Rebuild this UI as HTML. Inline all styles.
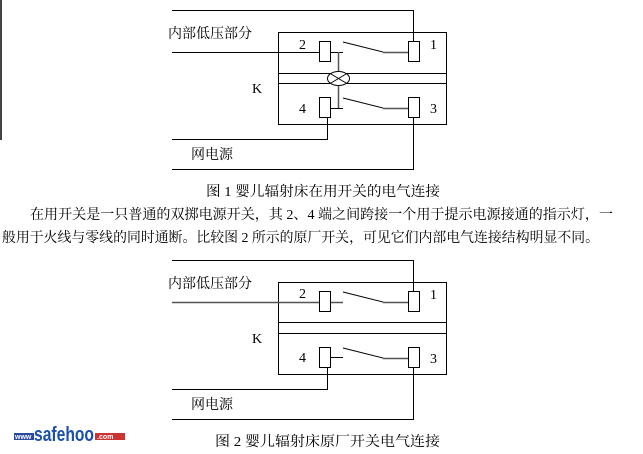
<!DOCTYPE html>
<html><head><meta charset="utf-8"><style>
html,body{margin:0;padding:0;background:#fff;width:643px;height:454px;overflow:hidden}
svg{display:block}
text{font-family:"Liberation Serif","Noto Serif CJK SC","Noto Sans CJK SC",serif;fill:#000}
</style></head><body>
<svg width="643" height="454" viewBox="0 0 643 454">
<rect x="0" y="0" width="2" height="140" fill="#444"/>
<g fill="none" stroke="#000" stroke-width="1">
<!-- fig1 -->
<polyline points="172,10.5 413.5,10.5 413.5,41"/>
<rect x="278.5" y="32.5" width="168" height="92"/>
<line x1="278" y1="73.5" x2="447" y2="73.5"/>
<line x1="278" y1="83.5" x2="447" y2="83.5"/>
<line x1="172" y1="52.5" x2="319" y2="52.5"/>
<rect x="319.5" y="41.5" width="11" height="20" fill="#fff"/>
<rect x="408.5" y="41.5" width="11" height="20" fill="#fff"/>
<line x1="331" y1="52.5" x2="343" y2="52.5"/>
<line x1="343" y1="42" x2="383" y2="52"/>
<line x1="383" y1="52.5" x2="408" y2="52.5" stroke="#555" stroke-width="1.5"/>
<line x1="338.5" y1="52" x2="338.5" y2="108" stroke="#555" stroke-width="1.5"/>
<ellipse cx="338.5" cy="78.5" rx="11" ry="7" fill="#fff"/>
<line x1="331" y1="74" x2="346" y2="83"/>
<line x1="331" y1="83" x2="346" y2="74"/>
<rect x="319.5" y="97.5" width="11" height="20" fill="#fff"/>
<rect x="408.5" y="97.5" width="11" height="20" fill="#fff"/>
<line x1="331" y1="108.5" x2="343" y2="108.5"/>
<line x1="343" y1="98" x2="383" y2="108"/>
<line x1="383" y1="108.5" x2="408" y2="108.5" stroke="#555" stroke-width="1.5"/>
<polyline points="327.5,118 327.5,139.5 172,139.5"/>
<polyline points="413.5,118 413.5,169.5 172,169.5"/>
<!-- fig2 -->
<polyline points="172,260.5 413.5,260.5 413.5,292"/>
<rect x="278.5" y="282.5" width="168" height="92"/>
<line x1="278" y1="322.5" x2="447" y2="322.5"/>
<line x1="278" y1="333.5" x2="447" y2="333.5"/>
<line x1="172" y1="302.5" x2="343" y2="302.5" stroke="#555" stroke-width="1.5"/>
<rect x="319.5" y="291.5" width="11" height="20" fill="#fff"/>
<rect x="408.5" y="291.5" width="11" height="20" fill="#fff"/>
<line x1="343" y1="292" x2="383" y2="302"/>
<line x1="383" y1="302.5" x2="408" y2="302.5" stroke="#555" stroke-width="1.5"/>
<rect x="319.5" y="347.5" width="11" height="20" fill="#fff"/>
<rect x="408.5" y="347.5" width="11" height="20" fill="#fff"/>
<line x1="331" y1="357.5" x2="343" y2="357.5"/>
<line x1="343" y1="348" x2="383" y2="358"/>
<line x1="383" y1="358.5" x2="408" y2="358.5" stroke="#555" stroke-width="1.5"/>
<polyline points="327.5,368 327.5,389.5 172,389.5"/>
<polyline points="413.5,368 413.5,419.5 172,419.5"/>
</g>
<g font-size="14">
<text x="168" y="38">内部低压部分</text>
<text x="299" y="49">2</text><text x="430" y="49">1</text>
<text x="252" y="93">K</text>
<text x="299" y="113" fill="#600">4</text><text x="430" y="113">3</text>
<text x="191" y="159">网电源</text>
<text x="206" y="196" textLength="234" lengthAdjust="spacingAndGlyphs">图 1 婴儿辐射床在用开关的电气连接</text>
<text x="30" y="219" textLength="583" lengthAdjust="spacingAndGlyphs">在用开关是一只普通的双掷电源开关，其 2、4 端之间跨接一个用于提示电源接通的指示灯，一</text>
<text x="2" y="242" textLength="597" lengthAdjust="spacingAndGlyphs">般用于火线与零线的同时通断。比较图 2 所示的原厂开关，可见它们内部电气连接结构明显不同。</text>
<text x="168" y="288">内部低压部分</text>
<text x="299" y="298">2</text><text x="430" y="299">1</text>
<text x="252" y="343">K</text>
<text x="299" y="362" fill="#600">4</text><text x="430" y="363">3</text>
<text x="191" y="409">网电源</text>
<text x="215" y="446" textLength="225" lengthAdjust="spacingAndGlyphs">图 2 婴儿辐射床原厂开关电气连接</text>
</g>
<rect x="14" y="433" width="20" height="7" fill="#2a4aa0"/>
<text x="15" y="439" style="font-family:'Liberation Sans',sans-serif;font-size:7px;font-weight:bold;fill:#fff">www</text>
<text x="34" y="441" style="font-family:'Liberation Sans',sans-serif;font-size:20px;font-weight:bold;fill:#1a4fb0" textLength="60" lengthAdjust="spacingAndGlyphs">safehoo</text>
<rect x="95" y="433" width="30" height="7" fill="#c33"/>
<text x="97" y="439" style="font-family:'Liberation Sans',sans-serif;font-size:7px;font-weight:bold;fill:#fff">.com</text>
</svg>
</body></html>
